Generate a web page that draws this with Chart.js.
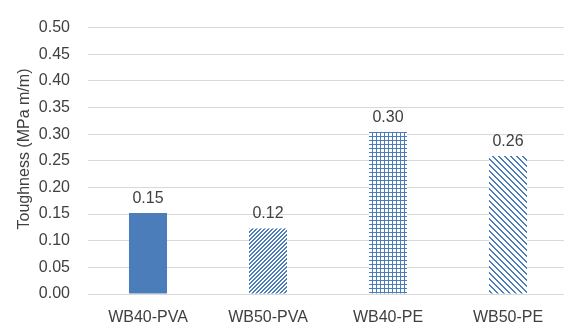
<!DOCTYPE html>
<html>
<head>
<meta charset="utf-8">
<script src="https://cdn.jsdelivr.net/npm/chart.js@4/dist/chart.umd.min.js"></script>
<style>
  html, body { margin: 0; padding: 0; background: #fff; overflow: hidden; }
  #wrap { position: absolute; left: 0; top: 0; width: 568px; height: 323px; }
</style>
</head>
<body>
<div id="wrap"><canvas id="chart" width="568" height="323"></canvas></div>
<script>
// chart data
var categories = ["WB40-PVA", "WB50-PVA", "WB40-PE", "WB50-PE"];
var toughness = [0.152, 0.123, 0.304, 0.259];
var yTicks = ["0.00", "0.05", "0.10", "0.15", "0.20", "0.25", "0.30", "0.35", "0.40", "0.45", "0.50"];
var yTitle = "Toughness (MPa m/m)";

var blue = "#4a7dba";
var font = "'Liberation Sans', Arial, sans-serif";
var textColor = "#404040";

// small tiles for the hatched fills
function makePattern(size, test) {
    var c = document.createElement("canvas");
    c.width = size;
    c.height = size;
    var g = c.getContext("2d");
    g.fillStyle = "#ffffff";
    g.fillRect(0, 0, size, size);
    g.fillStyle = blue;
    for (var y = 0; y < size; y++) {
        for (var x = 0; x < size; x++) {
            if (test(x, y)) g.fillRect(x, y, 1, 1);
        }
    }
    return document.createElement("canvas").getContext("2d").createPattern(c, "repeat");
}

var canvas = document.getElementById("chart");
var ctx = canvas.getContext("2d");

var fills = [
    blue,
    // dense upward diagonal
    makePattern(4, function(x, y) { return (x + y) % 4 < 2; }),
    // small grid
    makePattern(4, function(x, y) { return x == 0 || y == 0; }),
    // wide downward diagonal
    makePattern(6, function(x, y) { return ((x - y) % 6 + 6) % 6 < 2; })
];

// value labels above bars + the y title (sits a bit above centre in the original)
var barLabels = {
    id: "barLabels",
    afterDatasetsDraw: function(chart) {
        var c = chart.ctx;
        var meta = chart.getDatasetMeta(0);
        c.save();
        c.font = "16px " + font;
        c.fillStyle = textColor;
        c.textAlign = "center";
        c.textBaseline = "alphabetic";
        meta.data.forEach(function(bar, i) {
            c.fillText(toughness[i].toFixed(2), bar.x, bar.y - 10);
        });

        c.translate(25, 149);
        c.rotate(-Math.PI / 2);
        c.textBaseline = "middle";
        c.fillText(yTitle, 0, 0);
        c.restore();
    }
};

new Chart(ctx, {
    type: "bar",
    data: {
        labels: categories,
        datasets: [{
            data: toughness,
            backgroundColor: fills,
            borderWidth: 0,
            categoryPercentage: 1,
            barPercentage: 0.317
        }]
    },
    options: {
        responsive: false,
        animation: false,
        layout: { padding: { top: 17, right: 0, bottom: 0, left: 0 } },
        plugins: {
            legend: { display: false },
            tooltip: { enabled: false }
        },
        scales: {
            x: {
                grid: { display: false },
                border: { display: false },
                ticks: {
                    color: textColor,
                    font: { family: font, size: 16 },
                    padding: 6,
                    maxRotation: 0
                },
                afterFit: function(scale) { scale.height = 29; }
            },
            y: {
                min: 0,
                max: 0.5,
                border: { display: false },
                grid: { color: "#d9d9d9", lineWidth: 1, drawTicks: false },
                ticks: {
                    stepSize: 0.05,
                    color: textColor,
                    font: { family: font, size: 16 },
                    padding: 18,
                    callback: function(v, i) { return yTicks[i]; }
                },
                afterFit: function(scale) { scale.width = 88; }
            }
        }
    },
    plugins: [barLabels]
});
</script>
</body>
</html>
